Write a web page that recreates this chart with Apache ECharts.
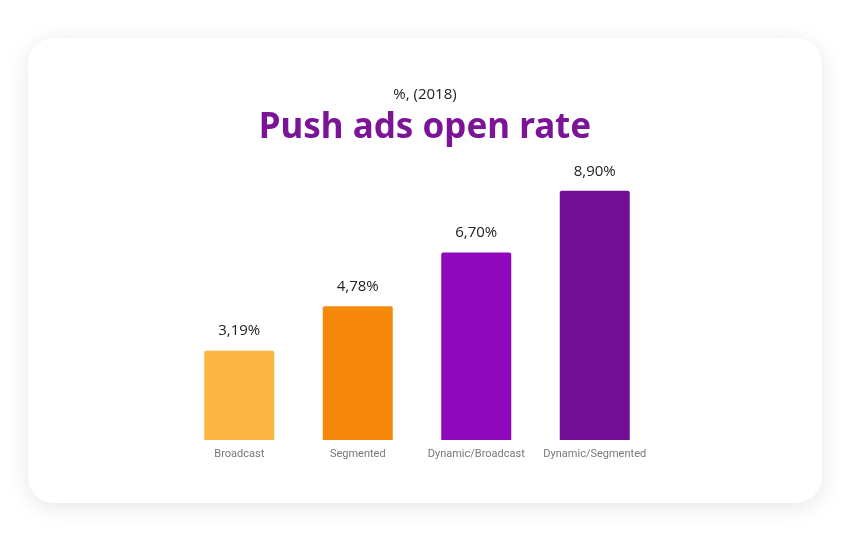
<!DOCTYPE html>
<html>
<head>
<meta charset="utf-8">
<script src="https://cdn.jsdelivr.net/npm/echarts@6/dist/echarts.min.js"></script>
<style>
html,body{margin:0;padding:0;background:#fff;}
#c{width:850px;height:541px;}
</style>
</head>
<body>
<div id="c"></div>
<script>
var categories = ['Broadcast', 'Segmented', 'Dynamic/Broadcast', 'Dynamic/Segmented'];
var values = [3.19, 4.78, 6.70, 8.90];
var valueLabels = ['3,19%', '4,78%', '6,70%', '8,90%'];
var barColors = ['#FBB540', '#F6890C', '#8F08BC', '#730D94'];

var chart = echarts.init(document.getElementById('c'), null, {renderer: 'canvas'});
chart.setOption({
  backgroundColor: '#ffffff',
  animation: false,
  graphic: [{
    type: 'rect',
    z: -10,
    shape: {x: 28, y: 38, width: 794, height: 465, r: 26},
    style: {fill: '#ffffff', shadowBlur: 22, shadowColor: 'rgba(0,0,0,0.10)', shadowOffsetY: 4}
  }],
  title: [{
    text: '%, (2018)',
    left: 'center',
    top: 82,
    textStyle: {fontFamily: 'Open Sans', fontSize: 15, fontWeight: 'normal', color: '#222'}
  }, {
    text: 'Push ads open rate',
    left: 'center',
    top: 106,
    textStyle: {fontFamily: 'Noto Sans', fontSize: 35, fontWeight: 'bold', color: '#7B1497'}
  }],
  grid: {left: 180, right: 196, top: 160, bottom: 101},
  xAxis: {
    type: 'category',
    data: categories,
    axisLine: {show: false},
    axisTick: {show: false},
    axisLabel: {fontFamily: 'Roboto', fontSize: 11, color: '#777', margin: 9, interval: 0}
  },
  yAxis: {
    type: 'value',
    min: 0, max: 10,
    show: false,
    splitLine: {show: false}
  },
  series: [{
    type: 'bar',
    barWidth: 70,
    data: values.map(function (v, i) {
      return {value: v, itemStyle: {color: barColors[i], borderRadius: [2, 2, 0, 0]}};
    }),
    label: {
      show: true,
      position: 'top',
      distance: 12,
      formatter: function (p) { return valueLabels[p.dataIndex]; },
      fontFamily: 'Open Sans',
      fontSize: 15,
      color: '#222'
    }
  }]
});
</script>
</body>
</html>
